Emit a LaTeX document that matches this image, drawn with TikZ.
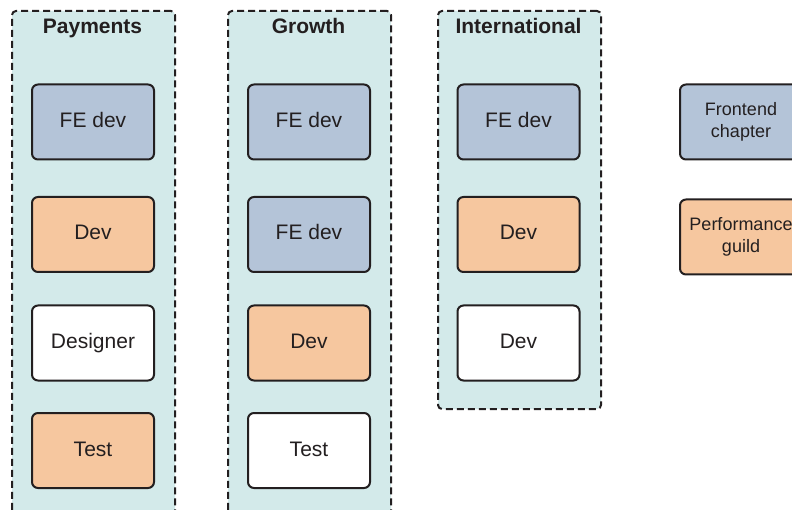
\documentclass[tikz,border=0pt]{standalone}
\usepackage{fontspec}
\setmainfont{Liberation Sans}
\definecolor{blueF}{HTML}{B4C4D8}
\definecolor{orangeF}{HTML}{F6C79F}
\definecolor{tealF}{HTML}{D3EAEA}
\definecolor{edge}{HTML}{231F20}
\tikzset{
  rolebox/.style={draw=edge, line width=2pt, rounded corners=6pt, minimum width=122pt, minimum height=75pt, inner sep=0pt, font=\fontsize{21}{25}\selectfont, text=edge, text height=15pt, text depth=4pt},
  legendbox/.style={draw=edge, line width=2pt, rounded corners=6pt, minimum width=122pt, minimum height=75pt, inner sep=0pt, font=\fontsize{18}{22}\selectfont, text=edge, align=center},
  colbox/.style={draw=edge, fill=tealF, line width=2pt, dash pattern=on 7pt off 4pt, rounded corners=4pt, minimum width=163pt, anchor=north west, inner sep=0pt},
  coltitle/.style={font=\bfseries\fontsize{21}{25}\selectfont, text=edge, anchor=base, inner sep=0pt}
}
\begin{document}
\begin{tikzpicture}[x=1pt,y=-1pt]
\useasboundingbox (0,0) rectangle (792,510);
\clip (0,0) rectangle (792,510);
% columns
\node[colbox, minimum height=540pt] (cp) at (11,10) {};
\node[colbox, minimum height=540pt] (cg) at (227,10) {};
\node[colbox, minimum height=398pt] (ci) at (437,10) {};
\node[coltitle] (tp) at (92.5,34) {Payments};
\node[coltitle] (tg) at (308.5,34) {Growth};
\node[coltitle] (ti) at (518.5,34) {International};
% Payments
\node[rolebox, fill=blueF] (p1) at (93,122) {FE dev};
\node[rolebox, fill=orangeF] (p2) at (93,234.5) {Dev};
\node[rolebox, fill=white] (p3) at (93,343) {Designer};
\node[rolebox, fill=orangeF] (p4) at (93,450.5) {Test};
% Growth
\node[rolebox, fill=blueF] (g1) at (309,122) {FE dev};
\node[rolebox, fill=blueF] (g2) at (309,234.5) {FE dev};
\node[rolebox, fill=orangeF] (g3) at (309,343) {Dev};
\node[rolebox, fill=white] (g4) at (309,450.5) {Test};
% International
\node[rolebox, fill=blueF] (i1) at (518.5,122) {FE dev};
\node[rolebox, fill=orangeF] (i2) at (518.5,234.5) {Dev};
\node[rolebox, fill=white] (i3) at (518.5,343) {Dev};
% Legend
\node[legendbox, fill=blueF] (l1) at (741,122) {Frontend\\chapter};
\node[legendbox, fill=orangeF] (l2) at (741,237) {Performance\\guild};
\end{tikzpicture}
\end{document}
